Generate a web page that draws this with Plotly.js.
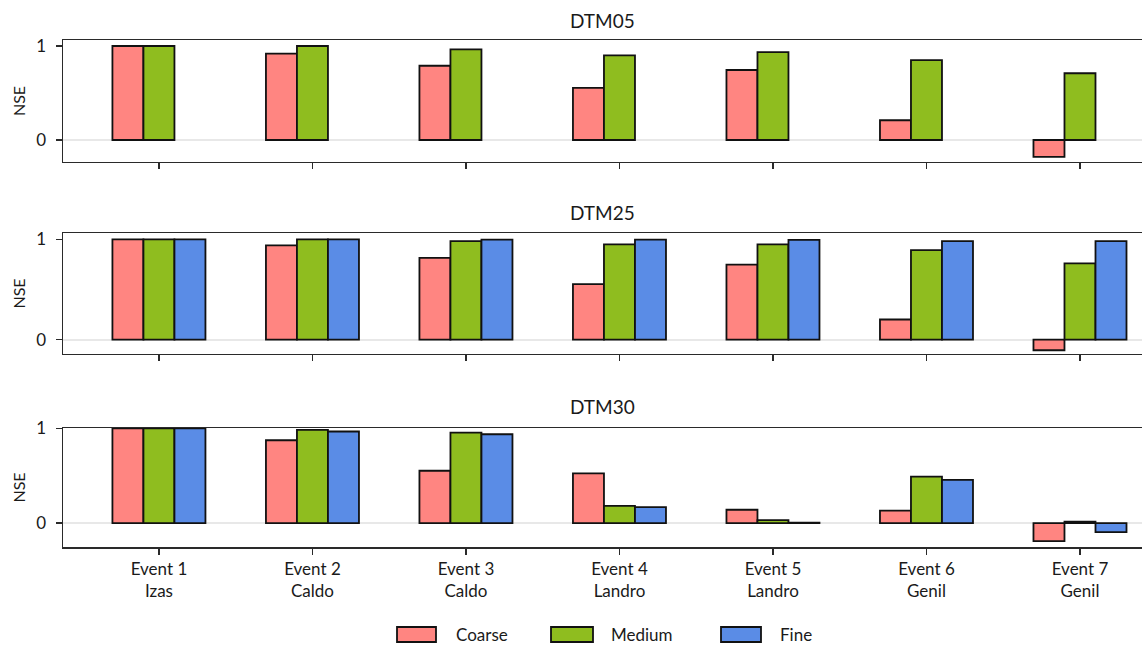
<!DOCTYPE html>
<html>
<head>
<meta charset="utf-8">
<script src="https://cdn.plot.ly/plotly-3.0.1.min.js"></script>
<style>
  html, body { margin: 0; padding: 0; background: #ffffff; }
  #chart { width: 1142px; height: 646px; }
</style>
</head>
<body>
<div id="chart"></div>
<script>
// Rainfall events (x categories)
const events = [
  'Event 1<br>Izas', 'Event 2<br>Caldo', 'Event 3<br>Caldo',
  'Event 4<br>Landro', 'Event 5<br>Landro', 'Event 6<br>Genil', 'Event 7<br>Genil'
];

// Grid resolutions
const seriesNames = ['Coarse', 'Medium', 'Fine'];
const seriesColors = ['#FF8581', '#8FBD1F', '#5A8CE6'];

// NSE per DTM and grid resolution
const dtm05Coarse = [1.0, 0.92, 0.79, 0.555, 0.745, 0.21, -0.18];
const dtm05Medium = [1.0, 1.0, 0.965, 0.90, 0.935, 0.85, 0.71];
const dtm05Fine   = [null, null, null, null, null, null, null];

const dtm25Coarse = [1.0, 0.94, 0.815, 0.553, 0.747, 0.20, -0.107];
const dtm25Medium = [1.0, 1.0, 0.983, 0.95, 0.95, 0.893, 0.76];
const dtm25Fine   = [1.0, 1.0, 0.997, 0.997, 0.995, 0.983, 0.983];

const dtm30Coarse = [1.0, 0.874, 0.552, 0.525, 0.14, 0.13, -0.19];
const dtm30Medium = [1.0, 0.984, 0.955, 0.182, 0.03, 0.49, 0.014];
const dtm30Fine   = [1.0, 0.966, 0.937, 0.168, 0.003, 0.455, -0.095];

const panelTitles = ['DTM05', 'DTM25', 'DTM30'];
const panelSeries = [
  [dtm05Coarse, dtm05Medium, dtm05Fine],
  [dtm25Coarse, dtm25Medium, dtm25Fine],
  [dtm30Coarse, dtm30Medium, dtm30Fine]
];
const yTickVals = [0, 1];
const yTickText = ['0', '1'];

const FONT = 'Lato, "Open Sans", sans-serif';
const TEXT = '#1a1a1a';

const traces = [];
panelSeries.forEach((group, p) => {
  const suffix = p === 0 ? '' : String(p + 1);
  group.forEach((vals, s) => {
    traces.push({
      type: 'bar',
      x: events,
      y: vals,
      name: seriesNames[s],
      xaxis: 'x' + suffix,
      yaxis: 'y' + suffix,
      showlegend: false,
      marker: { color: seriesColors[s], line: { color: '#111111', width: 1.8 } },
      hoverinfo: 'x+y+name'
    });
  });
});

// Plot area in pixels: left 63, right 1142, top 40, bottom 547
const W = 1142, H = 646, L = 63, R = 0, T = 40, B = 99;
const plotW = W - L - R, plotH = H - T - B;
const px = v => (v - L) / plotW;
const py = v => (H - B - v) / plotH;

const xRange = [-0.625, 6.404];
const domains = [[0.7594, 1.0], [0.3807, 0.6193], [0.0, 0.2347]];
const yRanges = [[-0.234, 1.064], [-0.144, 1.063], [-0.253, 1.003]];

function xAxis(p) {
  return {
    type: 'category',
    range: xRange,
    anchor: 'y' + (p === 0 ? '' : String(p + 1)),
    showline: true, mirror: true, linecolor: '#2a2a2a', linewidth: 1.5,
    ticks: 'outside', ticklen: 6, tickwidth: 1.5, tickcolor: '#2a2a2a',
    showgrid: false, zeroline: false,
    showticklabels: p === 2,
    tickfont: { family: FONT, size: 17, color: TEXT },
    fixedrange: true
  };
}
function yAxis(p) {
  return {
    domain: domains[p],
    range: yRanges[p],
    anchor: 'x' + (p === 0 ? '' : String(p + 1)),
    tickvals: yTickVals, ticktext: yTickText,
    showline: true, linecolor: '#2a2a2a', linewidth: 1.5,
    ticks: 'outside', ticklen: 6, tickwidth: 1.5, tickcolor: '#2a2a2a',
    ticklabelstandoff: 6,
    showgrid: false,
    zeroline: true, zerolinecolor: '#e8e8e8', zerolinewidth: 2,
    tickfont: { family: FONT, size: 17, color: TEXT },
    title: { text: 'NSE', font: { family: FONT, size: 16, color: TEXT }, standoff: 6 },
    automargin: false,
    fixedrange: true
  };
}

const annotations = panelTitles.map((t, p) => ({
  text: t, xref: 'paper', yref: 'paper',
  x: 0.5, y: py([20, 213, 407][p]),
  xanchor: 'center', yanchor: 'middle', showarrow: false,
  font: { family: FONT, size: 19, color: TEXT }
}));

// Legend drawn as boxed swatches with labels beneath the panels
const legendBoxes = [[397, 436], [551, 593], [721, 761]];
const legendTextX = [454, 609, 778];
const shapes = [];
seriesNames.forEach((n, s) => {
  shapes.push({
    type: 'rect', xref: 'paper', yref: 'paper',
    x0: px(legendBoxes[s][0]), x1: px(legendBoxes[s][1]),
    y0: py(642), y1: py(627),
    fillcolor: seriesColors[s], line: { color: '#111111', width: 1.8 }
  });
  annotations.push({
    text: n, xref: 'paper', yref: 'paper',
    x: px(legendTextX[s]), y: py(634.5),
    xanchor: 'left', yanchor: 'middle', showarrow: false,
    font: { family: FONT, size: 17, color: TEXT }
  });
});

const layout = {
  width: W, height: H,
  margin: { l: L, r: R, t: T, b: B },
  paper_bgcolor: '#ffffff', plot_bgcolor: '#ffffff',
  barmode: 'group', bargap: 0.394, bargroupgap: 0,
  showlegend: false,
  font: { family: FONT, color: TEXT },
  xaxis: xAxis(0), xaxis2: xAxis(1), xaxis3: xAxis(2),
  yaxis: yAxis(0), yaxis2: yAxis(1), yaxis3: yAxis(2),
  annotations: annotations,
  shapes: shapes
};

Plotly.newPlot('chart', traces, layout, { displayModeBar: false, staticPlot: true });
</script>
</body>
</html>
